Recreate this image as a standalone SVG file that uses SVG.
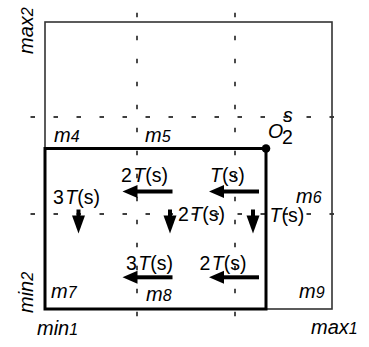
<svg xmlns="http://www.w3.org/2000/svg" xmlns:xlink="http://www.w3.org/1999/xlink" width="369" height="347" viewBox="0 0 369 347">
<style>
.t{font-family:"Liberation Sans",Arial,sans-serif;font-size:19.5px;fill:#000}
.i{font-style:italic}
.m{font-size:20px;font-style:italic}
.d{font-size:16px;font-style:italic}
.dash{stroke:#000;stroke-width:1.4;stroke-dasharray:4.5 18.5;fill:none}
</style>
<defs>
<g id="arrL"><polygon points="0,0 15,-6.5 15,6.5" fill="#000"/><rect x="14" y="-2" width="36" height="4" fill="#000"/></g>
<g id="arrD"><polygon points="0,0 -6.5,-18 6.5,-18" fill="#000"/><rect x="-2" y="-24" width="4" height="7" fill="#000"/></g>
</defs>
<rect width="369" height="347" fill="#fff"/>
<g id="grid">
<line class="dash" x1="137" y1="12.7" x2="137" y2="318"/>
<line class="dash" x1="235" y1="12.7" x2="235" y2="318"/>
<line class="dash" x1="30.5" y1="117" x2="334" y2="117"/>
<line class="dash" x1="30.5" y1="214" x2="334" y2="214"/>
</g>
<g id="outer"><rect x="45" y="22" width="287" height="287" fill="none" stroke="#333" stroke-width="1.6"/></g>
<g id="inner"><rect x="45" y="148.5" width="221" height="160.5" fill="none" stroke="#000" stroke-width="3"/>
<circle cx="266" cy="148.5" r="4.3" fill="#000"/></g>
<g id="axes">
<text class="t m" x="37" y="335">min<tspan class="d">1</tspan></text>
<text class="t m" x="311" y="333.5">max<tspan class="d">1</tspan></text>
<text class="t m" transform="translate(33,54) rotate(-90)">max<tspan class="d">2</tspan></text>
<text class="t m" transform="translate(33,313) rotate(-90)">min<tspan class="d">2</tspan></text>
</g>
<g id="cells">
<text class="t m" x="54" y="141.5">m<tspan class="d">4</tspan></text>
<text class="t m" x="145" y="141.5">m<tspan class="d">5</tspan></text>
<text class="t m" x="296" y="202.5">m<tspan class="d">6</tspan></text>
<text class="t m" x="51" y="298.3">m<tspan class="d">7</tspan></text>
<text class="t m" x="146" y="300.5">m<tspan class="d">8</tspan></text>
<text class="t m" x="299" y="298.3">m<tspan class="d">9</tspan></text>
</g>
<g id="origin">
<text class="t i" x="268" y="138" font-size="20">O</text>
<text class="t i" x="283" y="121.5" font-size="20">s</text>
<text class="t" x="282" y="144" font-size="19">2</text>
</g>
<g id="labels">
<text class="t" x="121" y="182">2<tspan class="i" dx="1.5">T</tspan>(s)</text>
<text class="t" x="210" y="182"><tspan class="i">T</tspan>(s)</text>
<text class="t" x="53" y="204">3<tspan class="i" dx="1.5">T</tspan>(s)</text>
<text class="t" x="178" y="220.5">2<tspan class="i" dx="1.5">T</tspan>(s)</text>
<text class="t" x="269.5" y="221.5"><tspan class="i">T</tspan>(s)</text>
<text class="t" x="126" y="270">3<tspan class="i" dx="1.5">T</tspan>(s)</text>
<text class="t" x="199.5" y="270">2<tspan class="i" dx="1.5">T</tspan>(s)</text>
</g>
<g id="arrows">
<use xlink:href="#arrL" x="122.5" y="191.5"/>
<use xlink:href="#arrL" x="209" y="191.5"/>
<use xlink:href="#arrL" x="122.5" y="277.3"/>
<use xlink:href="#arrL" x="209" y="277.3"/>
<use xlink:href="#arrD" x="78.5" y="233.5"/>
<use xlink:href="#arrD" x="170" y="233.5"/>
<use xlink:href="#arrD" x="253" y="233.5"/>
</g>
</svg>
